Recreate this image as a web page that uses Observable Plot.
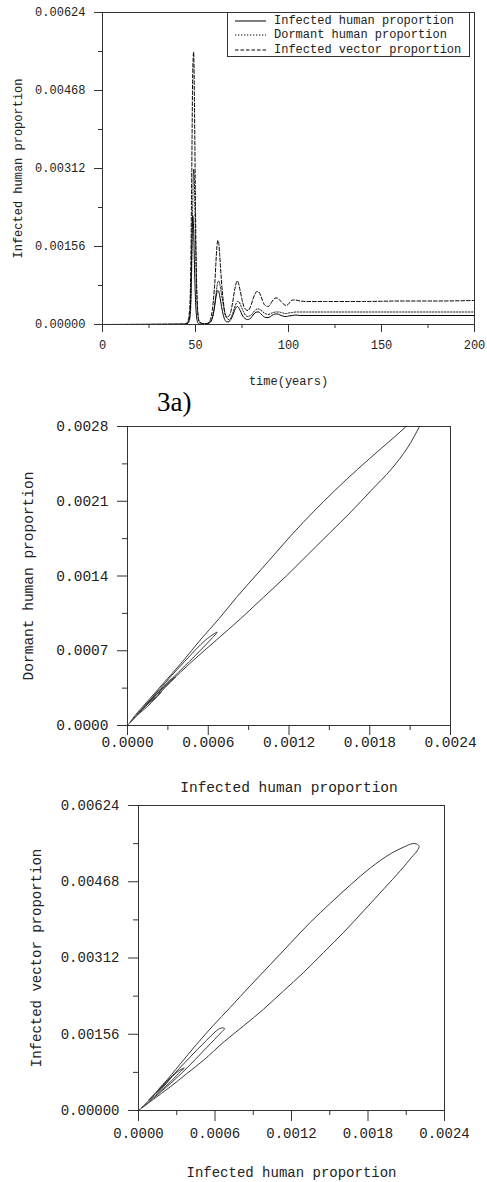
<!DOCTYPE html>
<html>
<head>
<meta charset="utf-8">
<script src="https://cdn.jsdelivr.net/npm/d3@7"></script>
<script src="https://cdn.jsdelivr.net/npm/@observablehq/plot@0.6"></script>
<style>
  body { margin: 0; background: #fff; }
  #page { position: relative; width: 487px; height: 1182px; overflow: hidden; background: #fff;
          font-family: "Liberation Mono", "Courier New", monospace; color: #222; }
  .panel { position: absolute; left: 0; }
  .panel svg { overflow: visible; }
  #legend { position: absolute; left: 227px; top: 12px; width: 243px; height: 45px;
            border: 1px solid #333; background: #fff; font-size: 12px; box-sizing: border-box; padding-top: 1px; }
  #legend .row { height: 14.3px; line-height: 14.3px; display: flex; align-items: center; white-space: nowrap; }
  #legend svg { margin-left: 7px; margin-right: 8px; }
  #label3a { position: absolute; left: 157px; top: 389px; font-family: "Liberation Serif", "Times New Roman", serif;
             font-size: 27px; line-height: 27px; color: #000; }
</style>
</head>
<body>
<div id="page">
  <div class="panel" id="p1" style="top:0px"></div>
  <div id="legend"></div>
  <div id="label3a">3a)</div>
  <div class="panel" id="p2" style="top:415px"></div>
  <div class="panel" id="p3" style="top:795px"></div>
</div>
<script>
// ---------- Time series (panel 1) ----------
const timeYears = [0, 44, 45, 46, 46.5, 47, 47.5, 48, 48.5, 49, 49.5, 50, 50.5, 51, 51.5, 52, 54, 56, 57, 58, 59, 60, 60.5, 61, 61.5, 62, 62.5, 63, 63.5, 64, 65, 66, 67, 68, 69, 70, 71, 72, 72.5, 73, 74, 75, 76, 77, 78, 79, 80, 81, 82, 83, 84, 85, 86, 87, 88, 89, 90, 91, 92, 93, 94, 95, 96, 97, 98, 99, 100, 102, 104, 106, 110, 120, 140, 160, 180, 200];
const infectedHuman = [0, 0.000005, 0.00001, 0.00004, 0.00009, 0.0002, 0.0006, 0.0015, 0.00218, 0.0019, 0.0011, 0.0005, 0.00018, 0.00006, 0.00002, 0.00001, 0.000005, 0.00001, 0.00002, 0.00005, 0.00013, 0.0003, 0.00042, 0.00055, 0.00064, 0.00068, 0.00066, 0.00058, 0.00047, 0.00036, 0.00018, 0.00008, 0.00005, 0.00006, 0.0001, 0.00018, 0.00028, 0.00035, 0.00036, 0.00035, 0.00028, 0.0002, 0.00014, 0.00011, 0.0001, 0.00011, 0.00014, 0.00019, 0.00023, 0.00025, 0.00025, 0.00022, 0.00018, 0.00015, 0.00014, 0.00014, 0.00015, 0.00018, 0.0002, 0.00021, 0.00021, 0.0002, 0.00018, 0.00017, 0.00016, 0.00016, 0.00017, 0.00018, 0.00019, 0.00018, 0.00018, 0.00018, 0.00018, 0.00018, 0.00018, 0.00018];
const dormantHuman = [0, 0.000004, 0.00001, 0.00003, 0.00006, 0.00013, 0.0004, 0.0012, 0.0024, 0.0031, 0.0027, 0.0017, 0.0008, 0.00032, 0.00012, 0.00005, 0.00002, 0.00002, 0.00003, 0.00005, 0.00012, 0.0003, 0.00045, 0.0006, 0.00075, 0.00085, 0.00087, 0.00082, 0.00072, 0.0006, 0.00038, 0.0002, 0.00012, 0.0001, 0.00013, 0.00022, 0.00034, 0.00043, 0.00046, 0.00046, 0.00041, 0.00032, 0.00024, 0.00018, 0.00016, 0.00017, 0.00019, 0.00024, 0.00028, 0.00031, 0.00031, 0.00029, 0.00026, 0.00023, 0.00021, 0.0002, 0.00021, 0.00023, 0.00024, 0.00025, 0.00025, 0.00025, 0.00024, 0.00023, 0.00022, 0.00022, 0.00023, 0.00024, 0.00025, 0.00025, 0.00025, 0.00025, 0.00025, 0.00025, 0.00025, 0.00025];
const infectedVector = [0, 0.00001, 0.00002, 0.00008, 0.00018, 0.0004, 0.0012, 0.0031, 0.005, 0.00545, 0.0042, 0.0023, 0.001, 0.0004, 0.00015, 0.00006, 0.00002, 0.00002, 0.00004, 0.0001, 0.00028, 0.00065, 0.0009, 0.00125, 0.00155, 0.00168, 0.00162, 0.0014, 0.00112, 0.00085, 0.00045, 0.0002, 0.00015, 0.00017, 0.00026, 0.00045, 0.00068, 0.00084, 0.00087, 0.00084, 0.00068, 0.0005, 0.00036, 0.0003, 0.00028, 0.00031, 0.0004, 0.00052, 0.00061, 0.00066, 0.00065, 0.00058, 0.00048, 0.0004, 0.00037, 0.00036, 0.00039, 0.00045, 0.0005, 0.00053, 0.00053, 0.0005, 0.00046, 0.00042, 0.00039, 0.00038, 0.00041, 0.00049, 0.00049, 0.00047, 0.00046, 0.00046, 0.00046, 0.00047, 0.00047, 0.00048];

// ---------- Phase portrait: infected human vs dormant human (panel 2) ----------
const phase2Infected = [
  0, 0.00007, 0.00014, 0.00031, 0.00048, 0.00066, 0.00084, 0.00101, 0.00118, 0.00134, 0.0015, 0.00166, 0.00181, 0.00196, 0.00208, 0.00217, 0.00222, 0.00226, 0.00224,
  0.00207, 0.00189, 0.00171, 0.00154, 0.00138, 0.00123, 0.00109, 0.00095, 0.00081, 0.00068, 0.00054, 0.00041, 0.00027, 0.00013, 0.00006, 0.00002,
  0.00015, 0.0003, 0.00046, 0.000615, 0.000666, 0.00058, 0.000425, 0.00028, 0.00014, 0.00007,
  0.00015, 0.00026, 0.00033, 0.000357, 0.00031, 0.00022, 0.00013,
  0.00018, 0.00025, 0.00021, 0.00016,
  0.00021, 0.00018];
const phase2Dormant = [
  0, 0.0001, 0.0002, 0.0004, 0.0006, 0.0008, 0.001, 0.0012, 0.0014, 0.0016, 0.0018, 0.002, 0.0022, 0.0024, 0.0026, 0.0028, 0.00292, 0.00302, 0.00303,
  0.0028, 0.0026, 0.0024, 0.0022, 0.002, 0.0018, 0.0016, 0.0014, 0.0012, 0.001, 0.0008, 0.0006, 0.0004, 0.0002, 0.0001, 0.00003,
  0.0002, 0.0004, 0.0006, 0.0008, 0.000874, 0.0008, 0.0006, 0.0004, 0.0002, 0.0001,
  0.00018, 0.00033, 0.00042, 0.000453, 0.00042, 0.0003, 0.00018,
  0.00023, 0.00031, 0.00029, 0.00022,
  0.00026, 0.00025];

// ---------- Phase portrait: infected human vs infected vector (panel 3) ----------
const phase3Infected = [0, 0.000115, 0.000247, 0.000378, 0.000509, 0.000672, 0.000824, 0.000981, 0.001138, 0.001296, 0.001453, 0.00161, 0.001768, 0.001925, 0.002056, 0.00214, 0.002188, 0.002201, 0.002182, 0.002148, 0.002083, 0.001978, 0.00182, 0.001663, 0.001506, 0.001348, 0.001191, 0.001033, 0.000876, 0.000719, 0.000588, 0.000456, 0.000325, 0.000194, 0.000089, 0.000024,
  0.00012, 0.00025, 0.00038, 0.00051, 0.00062, 0.000674, 0.00064, 0.00052, 0.0004, 0.00028, 0.00016, 0.00008,
  0.00016, 0.00026, 0.00033, 0.00036, 0.00031, 0.00022, 0.00014,
  0.00019, 0.00025, 0.00022, 0.00016,
  0.00021, 0.00018];
const phase3Vector = [0, 0.000226, 0.000479, 0.000753, 0.001026, 0.00141, 0.001731, 0.002073, 0.002449, 0.002826, 0.003236, 0.003647, 0.004091, 0.004536, 0.004913, 0.005173, 0.005323, 0.005405, 0.005453, 0.00546, 0.005392, 0.005255, 0.004967, 0.004618, 0.004242, 0.003852, 0.003421, 0.002983, 0.002552, 0.002107, 0.001745, 0.001355, 0.000944, 0.000534, 0.000226, 0.000055,
  0.00026, 0.00055, 0.00087, 0.00122, 0.00152, 0.00168, 0.00168, 0.0014, 0.00108, 0.00075, 0.00043, 0.00021,
  0.00037, 0.00061, 0.0008, 0.00087, 0.0008, 0.00057, 0.00036,
  0.00047, 0.00066, 0.0006, 0.00044,
  0.00053, 0.00049];

// ---------- Ticks & labels ----------
const timeTicks = [0, 50, 100, 150, 200];
const timeMinorTicks = [25, 75, 125, 175];
const propTicks = [0, 0.00156, 0.00312, 0.00468, 0.00624];
const propMinorTicks = [0.00078, 0.00234, 0.0039, 0.00546];
const humanTicks = [0, 0.0006, 0.0012, 0.0018, 0.0024];
const humanMinorTicks = [0.0003, 0.0009, 0.0015, 0.0021];
const dormantTicks = [0, 0.0007, 0.0014, 0.0021, 0.0028];
const dormantMinorTicks = [0.00035, 0.00105, 0.00175, 0.00245];
const seriesNames = ["Infected human proportion", "Dormant human proportion", "Infected vector proportion"];
const seriesDash = ["none", "1.3,1.7", "3.5,2"];

const mono = '"Liberation Mono", "Courier New", monospace';
const ink = "#333";

const ts = timeYears.map((t, i) => ({t, I: infectedHuman[i], D: dormantHuman[i], V: infectedVector[i]}));
const ph2 = phase2Infected.map((x, i) => ({x, y: phase2Dormant[i]}));
const ph3 = phase3Infected.map((x, i) => ({x, y: phase3Vector[i]}));
const blank = () => "";

function xTitle(text, dy) {
  return Plot.text([text], {frameAnchor: "bottom", dy, lineAnchor: "middle", textAnchor: "middle", fill: "#222"});
}
function yTitle(text, dx) {
  return Plot.text([text], {frameAnchor: "left", dx, rotate: -90, textAnchor: "middle", lineAnchor: "middle", fill: "#222"});
}

// Panel 1
const p1 = Plot.plot({
  width: 487, height: 395,
  marginLeft: 102, marginRight: 13, marginTop: 12, marginBottom: 71,
  style: {fontFamily: mono, fontSize: "12px", color: "#222", background: "transparent", overflow: "visible"},
  x: {domain: [0, 200]},
  y: {domain: [0, 0.00624]},
  marks: [
    Plot.line(ts, {x: "t", y: "V", stroke: "#000", strokeWidth: 1, strokeDasharray: seriesDash[2], curve: "monotone-x"}),
    Plot.line(ts, {x: "t", y: "D", stroke: "#000", strokeWidth: 1, strokeDasharray: seriesDash[1], curve: "monotone-x"}),
    Plot.line(ts, {x: "t", y: "I", stroke: "#000", strokeWidth: 1, curve: "monotone-x"}),
    Plot.frame({stroke: ink}),
    Plot.axisX({ticks: timeTicks, tickSize: 8, tickPadding: 8, tickFormat: d => String(d), label: null, stroke: ink}),
    Plot.axisX({ticks: timeMinorTicks, tickSize: 4, tickFormat: blank, label: null, stroke: ink}),
    Plot.axisY({ticks: propTicks, tickSize: 8, tickPadding: 9, tickFormat: d3.format(".5f"), label: null, stroke: ink}),
    Plot.axisY({ticks: propMinorTicks, tickSize: 4, tickFormat: blank, label: null, stroke: ink}),
    xTitle("time(years)", 57),
    yTitle(seriesNames[0], -84)
  ]
});
document.getElementById("p1").appendChild(p1);

// Legend
const legend = document.getElementById("legend");
seriesNames.forEach((name, i) => {
  const row = document.createElement("div");
  row.className = "row";
  row.innerHTML = `<svg width="31" height="4"><line x1="0" y1="2" x2="31" y2="2" stroke="#000" stroke-width="1" stroke-dasharray="${seriesDash[i]}"/></svg><span>${name}</span>`;
  legend.appendChild(row);
});

// Panel 2
const p2 = Plot.plot({
  width: 487, height: 385,
  marginLeft: 127, marginRight: 37, marginTop: 11, marginBottom: 75,
  style: {fontFamily: mono, fontSize: "14.5px", color: "#222", background: "transparent", overflow: "visible"},
  x: {domain: [0, 0.0024]},
  y: {domain: [0, 0.0028]},
  marks: [
    Plot.line(ph2, {x: "x", y: "y", stroke: "#3a3a3a", strokeWidth: 1, curve: "catmull-rom", clip: true}),
    Plot.frame({stroke: ink}),
    Plot.axisX({ticks: humanTicks, tickSize: 10, tickPadding: 1, tickFormat: d3.format(".4f"), label: null, stroke: ink}),
    Plot.axisX({ticks: humanMinorTicks, tickSize: 5, tickFormat: blank, label: null, stroke: ink}),
    Plot.axisY({ticks: dormantTicks, tickSize: 10, tickPadding: 9, tickFormat: d3.format(".4f"), label: null, stroke: ink}),
    Plot.axisY({ticks: dormantMinorTicks, tickSize: 5, tickFormat: blank, label: null, stroke: ink}),
    xTitle("Infected human proportion", 62),
    yTitle("Dormant human proportion", -99)
  ]
});
document.getElementById("p2").appendChild(p2);

// Panel 3
const p3 = Plot.plot({
  width: 487, height: 387,
  marginLeft: 138, marginRight: 43, marginTop: 10, marginBottom: 72,
  style: {fontFamily: mono, fontSize: "14px", color: "#222", background: "transparent", overflow: "visible"},
  x: {domain: [0, 0.0024]},
  y: {domain: [0, 0.00624]},
  marks: [
    Plot.line(ph3, {x: "x", y: "y", stroke: "#3a3a3a", strokeWidth: 1, curve: "catmull-rom", clip: true}),
    Plot.frame({stroke: ink}),
    Plot.axisX({ticks: humanTicks, tickSize: 11, tickPadding: 7, tickFormat: d3.format(".4f"), label: null, stroke: ink}),
    Plot.axisX({ticks: humanMinorTicks, tickSize: 5, tickFormat: blank, label: null, stroke: ink}),
    Plot.axisY({ticks: propTicks, tickSize: 10, tickPadding: 9, tickFormat: d3.format(".5f"), label: null, stroke: ink}),
    Plot.axisY({ticks: propMinorTicks, tickSize: 5, tickFormat: blank, label: null, stroke: ink}),
    xTitle("Infected human proportion", 62),
    yTitle("Infected vector proportion", -102)
  ]
});
document.getElementById("p3").appendChild(p3);
</script>
</body>
</html>
